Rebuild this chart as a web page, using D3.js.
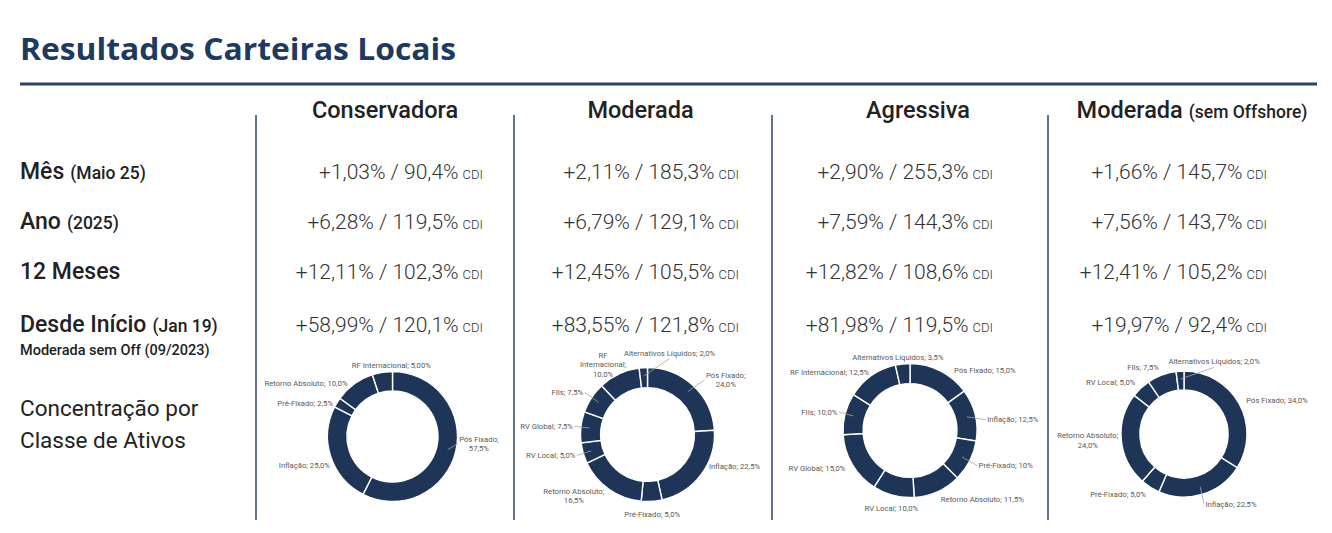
<!DOCTYPE html>
<html>
<head>
<meta charset="utf-8">
<script src="https://cdn.jsdelivr.net/npm/d3@7"></script>
<style>
  html, body { margin: 0; padding: 0; background: #ffffff; }
  svg { display: block; }
</style>
</head>
<body>
<div id="chart"></div>
<script>
// ---------------- DATA ----------------
const title = "Resultados Carteiras Locais";
const portfolios = ["Conservadora", "Moderada", "Agressiva", "Moderada"];
const portfolioSuffix = ["", "", "", "(sem Offshore)"];

const rowLabels = ["Mês", "Ano", "12 Meses", "Desde Início"];
const rowSubLabels = ["(Maio 25)", "(2025)", "", "(Jan 19)"];
const rowNote = "Moderada sem Off (09/2023)";
const allocationLabel = ["Concentração por", "Classe de Ativos"];

// returns (%) and % of CDI, one value per portfolio
const monthReturn = [1.03, 2.11, 2.90, 1.66];
const monthCdi    = [90.4, 185.3, 255.3, 145.7];
const yearReturn  = [6.28, 6.79, 7.59, 7.56];
const yearCdi     = [119.5, 129.1, 144.3, 143.7];
const m12Return   = [12.11, 12.45, 12.82, 12.41];
const m12Cdi      = [102.3, 105.5, 108.6, 105.2];
const sinceReturn = [58.99, 83.55, 81.98, 19.97];
const sinceCdi    = [120.1, 121.8, 119.5, 92.4];

// asset classes (clockwise order in the donuts)
const assetClasses = ["Pós Fixado", "Inflação", "Pré-Fixado", "Retorno Absoluto",
  "RV Local", "RV Global", "FIIs", "RF Internacional", "Alternativos Líquidos"];
const conservadoraAlloc = [57.5, 25.0, 2.5, 10.0, 0, 0, 0, 5.0, 0];
const moderadaAlloc     = [24.0, 22.5, 5.0, 16.5, 5.0, 7.5, 7.5, 10.0, 2.0];
const agressivaAlloc    = [15.0, 12.5, 10.0, 11.5, 10.0, 15.0, 10.0, 12.5, 3.5];
const moderadaSemOffAlloc = [34.0, 22.5, 5.0, 24.0, 5.0, 0, 7.5, 0, 2.0];
const allocations = [conservadoraAlloc, moderadaAlloc, agressivaAlloc, moderadaSemOffAlloc];

// label number format quirks as printed
const labelFormatOverrides = { "0|RF Internacional": ".2f", "2|Pré-Fixado": ".0f" };

// ---------------- LAYOUT ----------------
const W = 1332, H = 533;
const navy = "#1f3557";
const colCenters = [385, 640.5, 918, 1192];
const valueRight = [483, 739, 993, 1267];
const dividers = [256, 514, 772, 1048];
const rowBaselines = [179, 229, 279, 332];
const donutCx = [392.5, 647.5, 910, 1184];
const donutCy = [436.5, 434.5, 430.5, 434];
const donutR  = [65, 67, 67, 63];
const innerRatio = 0.7;

// label placement tweaks (angle in deg, dr = radial gap from outer edge)
const labelLayout = {
  "0|Pós Fixado": { angle: 96, dr: 2, leader: true, wrap: "semi", anchor: "start" },
  "0|RF Internacional": { angle: 359, dr: 2 },
  "0|Retorno Absoluto": { angle: 320, dr: 5 },
  "0|Pré-Fixado": { angle: 299, dr: 3 },
  "0|Inflação": { angle: 245, dr: 4 },
  "1|Pós Fixado": { angle: 47, dr: 13, leader: true, wrap: "semi", anchor: "start" },
  "1|Inflação": { angle: 117, dr: 2 },
  "1|Alternativos Líquidos": { angle: 16, dr: 13, leader: true, anchor: "middle" },
  "1|RF Internacional": { wrap: "words", angle: 343, dr: 6, anchor: "end" },
  "1|Retorno Absoluto": { wrap: "semi", dr: 8 },
  "1|FIIs": { leader: true, dr: 10 },
  "1|RV Global": { leader: true },
  "1|RV Local": { leader: true },
  "2|Alternativos Líquidos": { angle: 350, dr: 3 },
  "2|Pós Fixado": { angle: 36, dr: 8 },
  "2|Inflação": { angle: 82, dr: 11, leader: true },
  "2|Pré-Fixado": { leader: true, dr: 10 },
  "2|FIIs": { leader: true, dr: 8 },
  "2|RF Internacional": { dr: 4 },
  "3|Alternativos Líquidos": { angle: 24, dr: 11, leader: true, anchor: "middle" },
  "3|Retorno Absoluto": { wrap: "semi", dr: 3 },
  "3|Inflação": { leader: true, dr: 10, anchor: "start" }
};

// ---------------- DRAW ----------------
const locale = d3.formatLocale({ decimal: ",", thousands: ".", grouping: [3], currency: ["R$", ""] });
const fmtRet = locale.format("+.2f");
const fmtCdi = locale.format(".1f");

const svg = d3.select("#chart").append("svg").attr("width", W).attr("height", H);

svg.append("text").attr("x", 20).attr("y", 60)
  .attr("font-family", "'Open Sans', Lato, sans-serif").attr("font-weight", 700)
  .attr("font-size", 31).attr("fill", "#1f3a5f")
  .attr("textLength", 436).attr("lengthAdjust", "spacingAndGlyphs").text(title);

svg.append("line").attr("x1", 20).attr("x2", 1317).attr("y1", 84).attr("y2", 84)
  .attr("stroke", "#2b4569").attr("stroke-width", 3);

svg.selectAll("line.div").data(dividers).join("line").attr("class", "div")
  .attr("x1", d => d).attr("x2", d => d).attr("y1", 115).attr("y2", 520)
  .attr("stroke", "#2b4569").attr("stroke-width", 1.5);

// column headers
const head = svg.selectAll("text.head").data(portfolios).join("text").attr("class", "head")
  .attr("x", (d, i) => colCenters[i]).attr("y", 118).attr("text-anchor", "middle")
  .attr("font-family", "Roboto, sans-serif").attr("font-weight", 500).attr("fill", "#222");
head.append("tspan").attr("font-size", 23.5).text(d => d);
head.append("tspan").attr("font-size", 17.5).attr("dx", (d, i) => portfolioSuffix[i] ? 6 : 0)
  .text((d, i) => portfolioSuffix[i]);

// row labels
const rl = svg.selectAll("text.rowlab").data(rowLabels).join("text").attr("class", "rowlab")
  .attr("x", 20).attr("y", (d, i) => rowBaselines[i])
  .attr("font-family", "Roboto, sans-serif").attr("font-weight", 500).attr("fill", "#222");
rl.append("tspan").attr("font-size", 23).text(d => d);
rl.append("tspan").attr("font-size", 17.5).attr("dx", (d, i) => rowSubLabels[i] ? 6 : 0)
  .text((d, i) => rowSubLabels[i]);

svg.append("text").attr("x", 20).attr("y", 355)
  .attr("font-family", "Roboto, sans-serif").attr("font-weight", 500)
  .attr("font-size", 14.5).attr("fill", "#222").text(rowNote);

svg.selectAll("text.alloclab").data(allocationLabel).join("text").attr("class", "alloclab")
  .attr("x", 20).attr("y", (d, i) => 416 + i * 32)
  .attr("font-family", "Roboto, sans-serif").attr("font-weight", 400)
  .attr("font-size", 22.5).attr("fill", "#222").text(d => d);

// value cells
const rowsRet = [monthReturn, yearReturn, m12Return, sinceReturn];
const rowsCdi = [monthCdi, yearCdi, m12Cdi, sinceCdi];
rowsRet.forEach((ret, r) => {
  const t = svg.selectAll("text.val" + r).data(ret).join("text").attr("class", "val" + r)
    .attr("x", (d, i) => valueRight[i]).attr("y", rowBaselines[r]).attr("text-anchor", "end")
    .attr("font-family", "Roboto, sans-serif").attr("font-weight", 300).attr("fill", "#333");
  t.append("tspan").attr("font-size", 21).text((d, i) => fmtRet(d) + "% / " + fmtCdi(rowsCdi[r][i]) + "%");
  t.append("tspan").attr("font-size", 13).attr("dx", 4).text("CDI");
});

// donuts
const pie = d3.pie().sort(null).value(d => d.value);
const labelFont = 7.7, lineH = 9.4, capH = 5.5;

allocations.forEach((alloc, p) => {
  const data = assetClasses.map((c, i) => ({ cls: c, value: alloc[i] })).filter(d => d.value > 0);
  const arcs = pie(data);
  const outer = donutR[p], inner = outer * innerRatio;
  const arc = d3.arc().innerRadius(inner).outerRadius(outer);
  const g = svg.append("g").attr("transform", `translate(${donutCx[p]},${donutCy[p]})`);
  g.selectAll("path").data(arcs).join("path").attr("d", arc)
    .attr("fill", navy).attr("stroke", "#ffffff").attr("stroke-width", 1.4);

  const polar = (r, a) => [r * Math.sin(a), -r * Math.cos(a)];

  arcs.forEach(d => {
    const key = p + "|" + d.data.cls;
    const ov = labelLayout[key] || {};
    const fmt = locale.format(labelFormatOverrides[key] || ".1f");
    const valStr = fmt(d.data.value) + "%";
    let lines;
    if (ov.wrap === "semi") lines = [d.data.cls + ";", valStr];
    else if (ov.wrap === "words") {
      const w = d.data.cls.split(" ");
      lines = w.slice(0, -1).concat([w[w.length - 1] + ";", valStr]);
    } else lines = [d.data.cls + "; " + valStr];

    const mid = (d.startAngle + d.endAngle) / 2;
    const ang = ov.angle !== undefined ? ov.angle * Math.PI / 180 : mid;
    const r = outer + (ov.dr !== undefined ? ov.dr : 8);
    const P = polar(r, ang);
    const s = Math.sin(ang), c = Math.cos(ang);
    const anchor = ov.anchor || (Math.abs(s) < 0.35 ? "middle" : (s > 0 ? "start" : "end"));

    const lg = g.append("g");
    const texts = lg.selectAll("text").data(lines).join("text")
      .attr("text-anchor", "middle").attr("font-family", "Roboto, sans-serif")
      .attr("font-size", labelFont).attr("fill", "#595959").text(t => t);
    let w = 0;
    texts.each(function () { w = Math.max(w, this.getComputedTextLength()); });
    const h = lines.length * lineH;
    let bx, by;
    if (anchor === "start") { bx = P[0] + w / 2; by = P[1]; }
    else if (anchor === "end") { bx = P[0] - w / 2; by = P[1]; }
    else { bx = P[0]; by = c > 0 ? P[1] - h / 2 : P[1] + h / 2; }
    texts.attr("x", bx).attr("y", (t, i) => by - h / 2 + i * lineH + (lineH + capH) / 2);

    if (ov.leader) {
      let st;
      if (anchor === "start") st = [P[0] - 1.5, P[1]];
      else if (anchor === "end") st = [P[0] + 1.5, P[1]];
      else st = [P[0], c > 0 ? P[1] + 1 : P[1] - 1];
      const en = polar(outer - (outer - inner) * 0.42, mid);
      g.append("line").attr("x1", st[0]).attr("y1", st[1]).attr("x2", en[0]).attr("y2", en[1])
        .attr("stroke", "#a6a6a6").attr("stroke-width", 0.8);
    }
  });
});
</script>
</body>
</html>
